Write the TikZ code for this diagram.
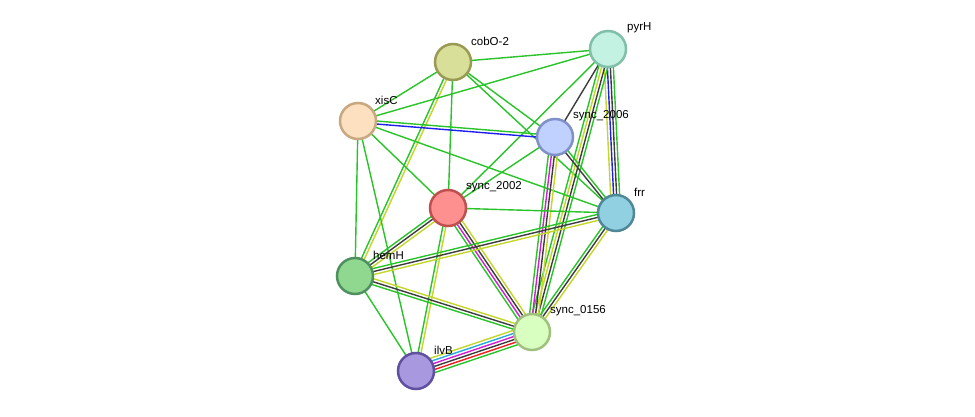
\documentclass[tikz,border=0pt]{standalone}
\usepackage{fontspec}
\setmainfont{Liberation Sans}
\usetikzlibrary{calc,backgrounds}
\definecolor{eg}{RGB}{40,196,40}
\definecolor{ey}{RGB}{196,214,40}
\definecolor{ek}{RGB}{60,60,60}
\definecolor{eb}{RGB}{30,30,240}
\definecolor{em}{RGB}{210,30,210}
\definecolor{ec}{RGB}{40,170,220}
\definecolor{er}{RGB}{240,30,30}
\newcommand\medge[4]{%
  \foreach \c [count=\i] in {#4} {%
    \pgfmathsetmacro\oo{(\i-(#3+1)/2)*3}%
    \draw[edge,\c] ($(#1.center)!\oo pt!90:(#2.center)$) -- ($(#2.center)!\oo pt!-90:(#1.center)$);
  }}
\begin{document}
\begin{tikzpicture}[x=1pt,y=-1pt,
  prot/.style={circle,minimum size=36pt,inner sep=0pt,line width=2.5pt},
  lab/.style={anchor=west,font=\fontsize{11.5}{12}\selectfont,inner sep=0pt},
  edge/.style={line width=1.4pt}]
\useasboundingbox (0,0) rectangle (975,417);
\node[prot,fill={rgb,255:red,216;green,223;blue,152},draw={rgb,255:red,154;green,154;blue,84}] (cob) at (453,62) {};
\node[prot,fill={rgb,255:red,196;green,242;blue,226},draw={rgb,255:red,128;green,192;blue,168}] (pyr) at (608,49) {};
\node[prot,fill={rgb,255:red,253;green,224;blue,192},draw={rgb,255:red,200;green,168;blue,128}] (xis) at (358,121) {};
\node[prot,fill={rgb,255:red,192;green,208;blue,255},draw={rgb,255:red,128;green,144;blue,200}] (s06) at (555,137) {};
\node[prot,fill={rgb,255:red,255;green,144;blue,144},draw={rgb,255:red,192;green,80;blue,80}] (s02) at (448,208) {};
\node[prot,fill={rgb,255:red,144;green,208;blue,224},draw={rgb,255:red,80;green,136;blue,152}] (frr) at (616,213) {};
\node[prot,fill={rgb,255:red,144;green,216;blue,144},draw={rgb,255:red,80;green,144;blue,96}] (hem) at (355,276) {};
\node[prot,fill={rgb,255:red,216;green,255;blue,192},draw={rgb,255:red,160;green,192;blue,128}] (s56) at (532,332) {};
\node[prot,fill={rgb,255:red,168;green,152;blue,224},draw={rgb,255:red,96;green,80;blue,160}] (ilv) at (416,371) {};
\node[lab] (l1) at (471,41) {cobO-2};
\node[lab] (l2) at (627,28) {pyrH};
\node[lab] (l3) at (375,100) {xisC};
\node[lab] (l4) at (573,116) {sync\_2006};
\node[lab] (l5) at (466,187) {sync\_2002};
\node[lab] (l6) at (634,192) {frr};
\node[lab] (l7) at (373,255) {hemH};
\node[lab] (l8) at (550,311) {sync\_0156};
\node[lab] (l9) at (434,350) {ilvB};
\begin{pgfonlayer}{background}
\fill[white] (0,0) rectangle (975,417);
\medge{cob}{pyr}{1}{eg}
\medge{cob}{xis}{1}{eg}
\medge{cob}{s06}{1}{eg}
\medge{cob}{frr}{1}{eg}
\medge{cob}{s02}{1}{eg}
\medge{cob}{hem}{2}{eg,ey}
\medge{pyr}{xis}{1}{eg}
\medge{pyr}{s06}{1}{ek}
\medge{pyr}{s02}{1}{eg}
\medge{pyr}{frr}{4}{ey,eb,ek,eg}
\medge{pyr}{s56}{4}{eg,ey,ek,eg}
\medge{xis}{s06}{2}{eb,eg}
\medge{xis}{frr}{1}{eg}
\medge{xis}{s02}{1}{eg}
\medge{xis}{hem}{1}{eg}
\medge{xis}{ilv}{1}{eg}
\medge{s06}{s02}{1}{eg}
\medge{s06}{frr}{2}{ek,eg}
\medge{s06}{s56}{4}{eg,em,ek,ey}
\medge{s02}{frr}{1}{eg}
\medge{s02}{hem}{3}{eg,ek,ey}
\medge{s02}{s56}{4}{eg,em,ek,ey}
\medge{s02}{ilv}{2}{eg,ey}
\medge{frr}{hem}{3}{eg,ek,ey}
\medge{frr}{s56}{3}{eg,ek,ey}
\medge{hem}{s56}{3}{eg,ek,ey}
\medge{hem}{ilv}{1}{eg}
\medge{s56}{ilv}{6}{ey,ec,em,ek,er,eg}
\end{pgfonlayer}
\end{tikzpicture}
\end{document}
